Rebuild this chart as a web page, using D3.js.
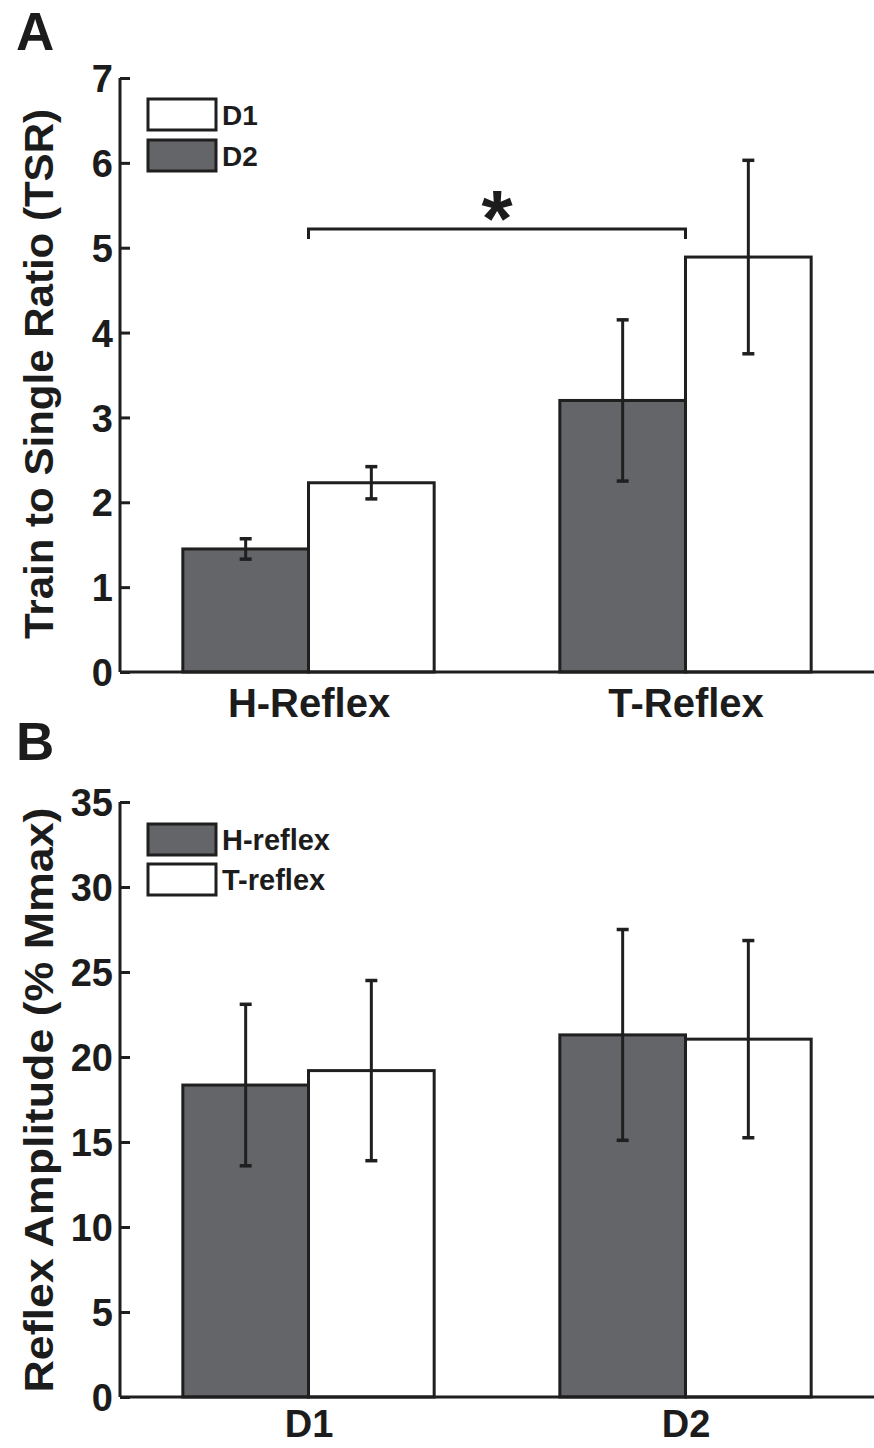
<!DOCTYPE html>
<html><head><meta charset="utf-8">
<script src="https://cdn.jsdelivr.net/npm/d3@7"></script>
<style>body{margin:0;background:#fff}svg{display:block}text{font-family:"Liberation Sans",Arial,sans-serif;font-weight:bold;fill:#1c1c1c}</style>
</head><body>
<script>
// ---- Panel A data ----
const catsA = ["H-Reflex", "T-Reflex"];
const seriesA = ["D2", "D1"];           // order of bars within a group (left, right)
const valsA_D2 = [1.45, 3.20];
const errA_D2 = [0.12, 0.95];
const valsA_D1 = [2.23, 4.89];
const errA_D1 = [0.19, 1.14];
const ticksA = [0, 1, 2, 3, 4, 5, 6, 7];
const legendA = ["D1", "D2"];
// ---- Panel B data ----
const catsB = ["D1", "D2"];
const seriesB = ["H-reflex", "T-reflex"];
const valsB_H = [18.35, 21.3];
const errB_H = [4.75, 6.2];
const valsB_T = [19.2, 21.05];
const errB_T = [5.3, 5.8];
const ticksB = [0, 5, 10, 15, 20, 25, 30, 35];
const legendB = ["H-reflex", "T-reflex"];

const DARK = "#646569", INK = "#1f1f1f";
const W = 874, H = 1448;
const svg = d3.select("body").append("svg").attr("width", W).attr("height", H);

function panel(cfg) {
  const g = svg.append("g");
  const x = d3.scaleLinear().domain([0.5, 2.5]).range([120, 874]);
  const y = d3.scaleLinear().domain(cfg.ydom).range([cfg.y0, cfg.y1]);
  const bw = 1 / 3;
  const data = [];
  cfg.cats.forEach((c, i) => {
    cfg.series.forEach((s, j) => {
      data.push({cat: i + 1, j, v: cfg.vals[j][i], e: cfg.errs[j][i], fill: cfg.fills[j]});
    });
  });
  // bars
  g.selectAll("rect.bar").data(data).enter().append("rect")
    .attr("x", d => x(d.cat + (d.j - 1) * bw))
    .attr("width", d => x(d.cat + bw) - x(d.cat))
    .attr("y", d => y(d.v))
    .attr("height", d => y(0) - y(d.v))
    .attr("fill", d => d.fill).attr("stroke", INK).attr("stroke-width", 3);
  // error bars
  const cx = d => x(d.cat + (d.j - 0.5) * bw);
  g.selectAll("line.eb").data(data).enter().append("line")
    .attr("x1", cx).attr("x2", cx)
    .attr("y1", d => y(d.v - d.e)).attr("y2", d => y(d.v + d.e))
    .attr("stroke", INK).attr("stroke-width", 3);
  [1, -1].forEach(sgn => {
    g.selectAll(null).data(data).enter().append("line")
      .attr("x1", d => cx(d) - 6).attr("x2", d => cx(d) + 6)
      .attr("y1", d => y(d.v + sgn * d.e)).attr("y2", d => y(d.v + sgn * d.e))
      .attr("stroke", INK).attr("stroke-width", 3.5);
  });
  // y axis
  const ya = d3.axisLeft(y).tickValues(cfg.ticks).tickSize(-10).tickPadding(8).tickFormat(d3.format("d"));
  const yg = g.append("g").attr("transform", "translate(120,0)").call(ya);
  yg.select(".domain").attr("stroke", INK).attr("stroke-width", 3).attr("d", `M0,${cfg.y1 }V${cfg.y0}`);
  yg.selectAll(".tick line").attr("stroke", INK).attr("stroke-width", 3).attr("x1", 0).attr("x2", 10);
  yg.selectAll(".tick text").attr("font-size", 38).attr("font-family", null).attr("fill", INK).attr("dy", "0.36em").attr("x", -7);
  // x axis
  const xa = d3.axisBottom(x).tickValues([1, 2]).tickSize(0).tickPadding(12).tickFormat(d => cfg.cats[d - 1]);
  const xg = g.append("g").attr("transform", `translate(0,${cfg.y0})`).call(xa);
  xg.select(".domain").attr("stroke", INK).attr("stroke-width", 3).attr("d", "M120,0H874");
  xg.selectAll(".tick text").attr("font-size", cfg.xFont).attr("font-family", null).attr("fill", INK).attr("dy", null).attr("y", cfg.xLabY);
  // y title
  g.append("text").attr("transform", `translate(${cfg.titleX},${cfg.titleY}) rotate(-90)`)
    .attr("text-anchor", "middle").attr("font-size", 40)
    .attr("textLength", cfg.titleLen).attr("lengthAdjust", "spacingAndGlyphs")
    .text(cfg.title);
  // panel label
  g.append("text").attr("x", 16).attr("y", cfg.labelY).attr("font-size", 53).text(cfg.label);
  // legend
  cfg.legend.forEach((name, k) => {
    const yy = cfg.legY[k];
    g.append("rect").attr("x", 148).attr("y", yy).attr("width", 68).attr("height", 31)
      .attr("fill", cfg.legFill[k]).attr("stroke", INK).attr("stroke-width", 3);
    g.append("text").attr("x", 222).attr("y", yy + 15.5).attr("dy", "0.36em").attr("font-size", cfg.legFont).text(name);
  });
  return {x, y, g};
}

const A = panel({
  cats: catsA, series: seriesA, vals: [valsA_D2, valsA_D1], errs: [errA_D2, errA_D1],
  fills: [DARK, "#fff"], ydom: [0, 7], y0: 672, y1: 78, ticks: ticksA, xFont: 40, xLabY: 45,
  title: "Train to Single Ratio (TSR)", titleX: 53, titleY: 374, titleLen: 530,
  label: "A", labelY: 50, legend: legendA, legY: [99, 140], legFill: ["#fff", DARK], legFont: 28
});
// significance bracket
const by = A.y(5.22);
A.g.append("path")
  .attr("d", `M${A.x(1)},${by + 10}V${by}H${A.x(2)}V${by + 10}`)
  .attr("fill", "none").attr("stroke", INK).attr("stroke-width", 3);
A.g.append("text").attr("x", (A.x(1) + A.x(2)) / 2).attr("y", by + 17)
  .attr("text-anchor", "middle").attr("font-size", 80).text("*");

panel({
  cats: catsB, series: seriesB, vals: [valsB_H, valsB_T], errs: [errB_H, errB_T],
  fills: [DARK, "#fff"], ydom: [0, 35], y0: 1397, y1: 802, ticks: ticksB, xFont: 38, xLabY: 40,
  title: "Reflex Amplitude (% Mmax)", titleX: 53, titleY: 1100, titleLen: 585,
  label: "B", labelY: 760, legend: legendB, legY: [824, 864], legFill: [DARK, "#fff"], legFont: 29
});
</script>
</body></html>
